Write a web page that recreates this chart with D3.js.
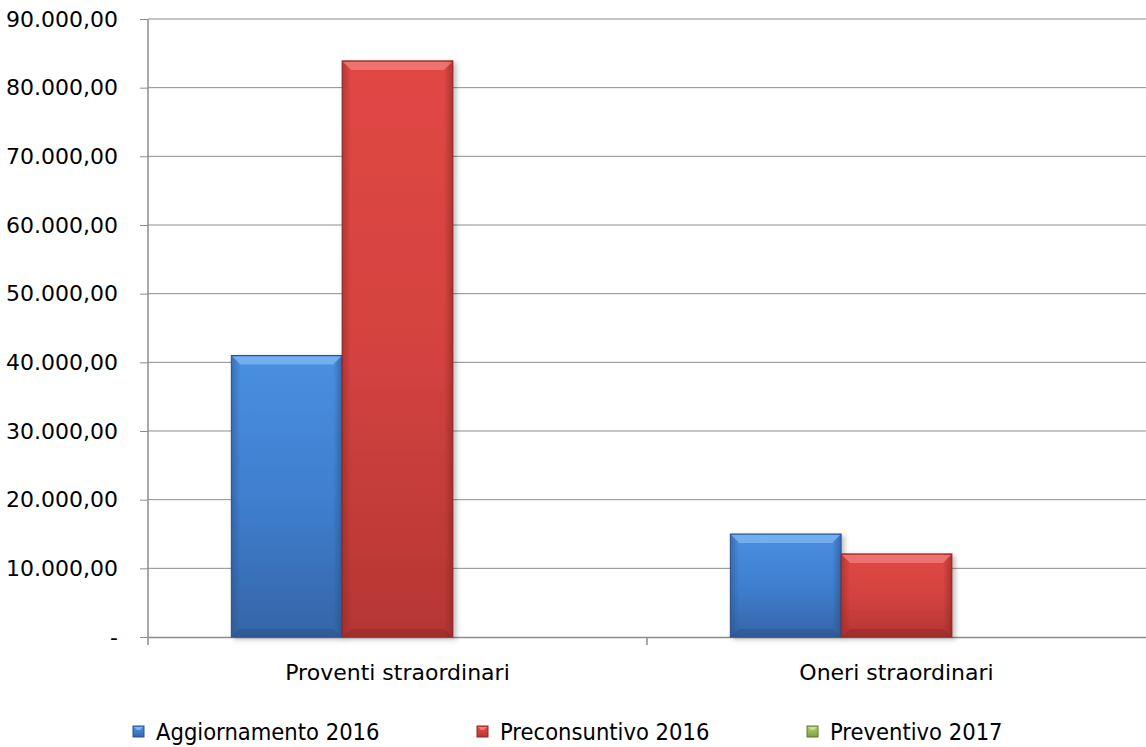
<!DOCTYPE html>
<html>
<head>
<meta charset="utf-8">
<script src="https://cdn.jsdelivr.net/npm/d3@7"></script>
<style>
  body { margin: 0; background: #fff; }
  svg { display: block; }
</style>
</head>
<body>
<svg id="chart" width="1146" height="747"></svg>
<script>
// data
const categories = ["Proventi straordinari", "Oneri straordinari"];
const series = ["Aggiornamento 2016", "Preconsuntivo 2016", "Preventivo 2017"];
const aggiornamento2016 = [41000, 15000];
const preconsuntivo2016 = [83900, 12100];
const preventivo2017 = [0, 0];
const yTicks = [0, 10000, 20000, 30000, 40000, 50000, 60000, 70000, 80000, 90000];

const values = [aggiornamento2016, preconsuntivo2016, preventivo2017];
const colors = [
  { top: "#4a8fe0", mid: "#3f7fcf", bot: "#3565a8", edge: "#2a5088", hi: "#7db4f2" },
  { top: "#e04744", mid: "#d44340", bot: "#b53633", edge: "#8a2826", hi: "#f07a77" },
  { top: "#a6c964", mid: "#9bbb59", bot: "#7d9a43", edge: "#607a30", hi: "#c4df90" }
];

const svg = d3.select("#chart");
const margin = { left: 148, top: 19, right: 0, bottom: 110 };
const W = 1146, H = 747;
const plotBottom = 637;

const x = d3.scaleBand().domain(categories).range([margin.left, W]).paddingInner(0).paddingOuter(0);
const y = d3.scaleLinear().domain([0, 90000]).range([plotBottom, margin.top]);
const groupW = x.bandwidth() * 0.666;
const xs = d3.scaleBand().domain(series).range([0, groupW]);

const fmt = v => v === 0 ? "-" : d3.formatLocale({ decimal: ",", thousands: ".", grouping: [3] }).format(",.2f")(v);

// gradients
const defs = svg.append("defs");
colors.forEach((c, i) => {
  const g = defs.append("linearGradient").attr("id", "g" + i).attr("x1", 0).attr("y1", 0).attr("x2", 0).attr("y2", 1);
  g.append("stop").attr("offset", "0%").attr("stop-color", c.top);
  g.append("stop").attr("offset", "50%").attr("stop-color", c.mid);
  g.append("stop").attr("offset", "100%").attr("stop-color", c.bot);
  const h = defs.append("linearGradient").attr("id", "h" + i).attr("x1", 0).attr("y1", 0).attr("x2", 1).attr("y2", 0);
  h.append("stop").attr("offset", "0%").attr("stop-color", c.edge).attr("stop-opacity", 0.5);
  h.append("stop").attr("offset", "8%").attr("stop-color", c.edge).attr("stop-opacity", 0);
  h.append("stop").attr("offset", "92%").attr("stop-color", c.edge).attr("stop-opacity", 0);
  h.append("stop").attr("offset", "100%").attr("stop-color", c.edge).attr("stop-opacity", 0.6);
});
const sh = defs.append("filter").attr("id", "shadow").attr("x", "-10%").attr("y", "-5%").attr("width", "125%").attr("height", "115%");
sh.append("feDropShadow").attr("dx", 3).attr("dy", 2).attr("stdDeviation", 2.5).attr("flood-color", "#000").attr("flood-opacity", 0.25);

// gridlines
svg.append("g")
  .selectAll("line")
  .data(yTicks.slice(1))
  .join("line")
  .attr("x1", margin.left).attr("x2", W)
  .attr("y1", d => y(d)).attr("y2", d => y(d))
  .attr("stroke", "#8c8c8c").attr("stroke-width", 1);

// y axis
const yAxis = svg.append("g")
  .attr("transform", `translate(${margin.left},0)`)
  .call(d3.axisLeft(y).tickValues(yTicks).tickFormat(fmt).tickSize(8).tickPadding(22));
yAxis.select(".domain").remove();
yAxis.selectAll(".tick line").attr("stroke", "#8c8c8c");
yAxis.selectAll(".tick text")
  .attr("fill", "#000")
  .style("font-family", "'DejaVu Sans', Verdana, sans-serif")
  .style("font-size", "22px");
svg.append("line")
  .attr("x1", margin.left).attr("x2", margin.left)
  .attr("y1", margin.top).attr("y2", plotBottom + 8)
  .attr("stroke", "#8c8c8c").attr("stroke-width", 1.5);

// x axis
const xAxis = svg.append("g")
  .attr("transform", `translate(0,${plotBottom})`)
  .call(d3.axisBottom(x).tickSize(0).tickPadding(27));
xAxis.select(".domain").attr("stroke", "#8c8c8c").attr("stroke-width", 1.5);
xAxis.selectAll(".tick text")
  .attr("fill", "#000")
  .style("font-family", "'DejaVu Sans', Verdana, sans-serif")
  .style("font-size", "22px");
svg.append("g")
  .selectAll("line")
  .data([categories[0]])
  .join("line")
  .attr("x1", d => x(d) + x.bandwidth()).attr("x2", d => x(d) + x.bandwidth())
  .attr("y1", plotBottom).attr("y2", plotBottom + 8)
  .attr("stroke", "#8c8c8c").attr("stroke-width", 1.5);

// bars
const bars = [];
categories.forEach((c, ci) => {
  series.forEach((s, si) => {
    bars.push({ c, s, si, v: values[si][ci] });
  });
});

const barG = svg.append("g")
  .selectAll("g")
  .data(bars.filter(d => d.v > 0))
  .join("g")
  .attr("transform", d => `translate(${x(d.c) + (x.bandwidth() - groupW) / 2 + xs(d.s)},${y(d.v)})`);

barG.append("rect")
  .attr("width", xs.bandwidth())
  .attr("height", d => plotBottom - y(d.v))
  .attr("fill", d => `url(#g${d.si})`)
  .attr("stroke", d => colors[d.si].edge)
  .attr("stroke-width", 1)
  .attr("filter", "url(#shadow)");
barG.append("rect")
  .attr("width", xs.bandwidth())
  .attr("height", d => plotBottom - y(d.v))
  .attr("fill", d => `url(#h${d.si})`);
// bevel top
barG.append("path")
  .attr("d", () => {
    const w = xs.bandwidth();
    return `M1,1 L${w - 1},1 L${w - 9},9 L9,9 Z`;
  })
  .attr("fill", d => colors[d.si].hi)
  .attr("opacity", 0.85);
// bevel bottom
barG.append("path")
  .attr("d", d => {
    const w = xs.bandwidth(), h = plotBottom - y(d.v);
    return `M1,${h - 1} L${w - 1},${h - 1} L${w - 9},${h - 8} L9,${h - 8} Z`;
  })
  .attr("fill", d => colors[d.si].edge)
  .attr("opacity", 0.45);

// legend
const legendX = [133, 477, 807];
const leg = svg.append("g")
  .selectAll("g")
  .data(series)
  .join("g")
  .attr("transform", (d, i) => `translate(${legendX[i]},726)`);
leg.append("rect")
  .attr("width", 11).attr("height", 11)
  .attr("fill", (d, i) => `url(#g${i})`)
  .attr("stroke", (d, i) => colors[i].edge);
leg.append("path")
  .attr("d", "M1,1 L10,1 L7,4 L4,4 Z")
  .attr("fill", (d, i) => colors[i].hi);
leg.append("text")
  .attr("x", 23).attr("y", 14)
  .text(d => d)
  .style("font-family", "'DejaVu Sans Condensed', 'DejaVu Sans', sans-serif")
  .style("font-stretch", "condensed")
  .style("font-size", "23.5px")
  .attr("fill", "#000");
</script>
</body>
</html>
